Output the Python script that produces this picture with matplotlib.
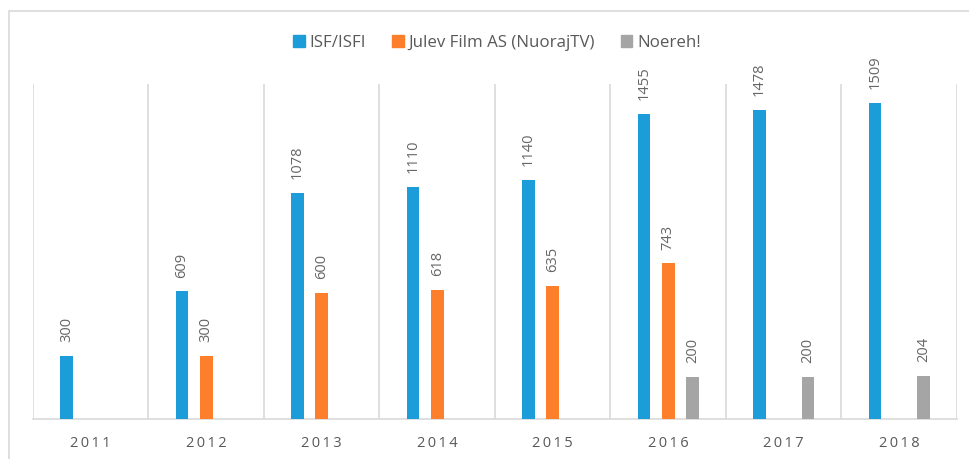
import matplotlib.pyplot as plt
from matplotlib.patches import Rectangle, Patch

years = ['2011', '2012', '2013', '2014', '2015', '2016', '2017', '2018']
isf = [300, 609, 1078, 1110, 1140, 1455, 1478, 1509]
julev = [None, 300, 600, 618, 635, 743, None, None]
noereh = [None, None, None, None, None, 200, 200, 204]

series = [
    ('ISF/ISFI', isf, '#1c9cd8'),
    ('Julev Film AS (NuorajTV)', julev, '#fe7f2b'),
    ('Noereh!', noereh, '#a5a5a5'),
]

text_color = '#595959'
grid_color = '#d9d9d9'
font = ['Open Sans', 'DejaVu Sans']
plt.rcParams['font.family'] = font

fig = plt.figure(figsize=(9.7, 4.59), dpi=100)
fig.patches.append(Rectangle((9 / 970, -0.1), 1.2, 1.1 - 11 / 459 + 0.0,
                             transform=fig.transFigure, fill=False,
                             edgecolor=grid_color, linewidth=1.2))
ax = fig.add_axes([33 / 970, 40 / 459, 924 / 970, 335 / 459])

width = 0.11
offsets = [-0.21, 0, 0.21]
for (label, vals, color), off in zip(series, offsets):
    for i, v in enumerate(vals):
        if v is None:
            continue
        ax.bar(i + off, v, width=width, color=color, zorder=3)
        ax.annotate(str(v), (i + off, v), xytext=(0, 10), textcoords='offset points',
                    rotation=90, ha='center', va='bottom', color='#666666',
                    fontsize=10.5)

for b in range(len(years) + 1):
    ax.axvline(b - 0.5, color=grid_color, linewidth=1.2, zorder=1)

ax.set_xlim(-0.5, len(years) - 0.5)
ax.set_ylim(0, 1600)
ax.set_yticks([])
ax.set_xticks(range(len(years)))
ax.set_xticklabels(['\u2009'.join(y) for y in years], color=text_color, fontsize=10.5)
ax.tick_params(axis='x', length=0, pad=12)
for s in ['top', 'left', 'right']:
    ax.spines[s].set_visible(False)
ax.spines['bottom'].set_color(grid_color)
ax.spines['bottom'].set_linewidth(1.2)

handles = [Patch(color=c, label=l) for l, _, c in series]
fig.legend(handles=handles, loc='center', bbox_to_anchor=(497 / 970, 1 - 43 / 459),
           ncol=3, frameon=False, fontsize=12.2, labelcolor=text_color,
           handlelength=0.7, handleheight=0.7, handletextpad=0.3, columnspacing=1.5)

fig.savefig('out.png', dpi=100)
